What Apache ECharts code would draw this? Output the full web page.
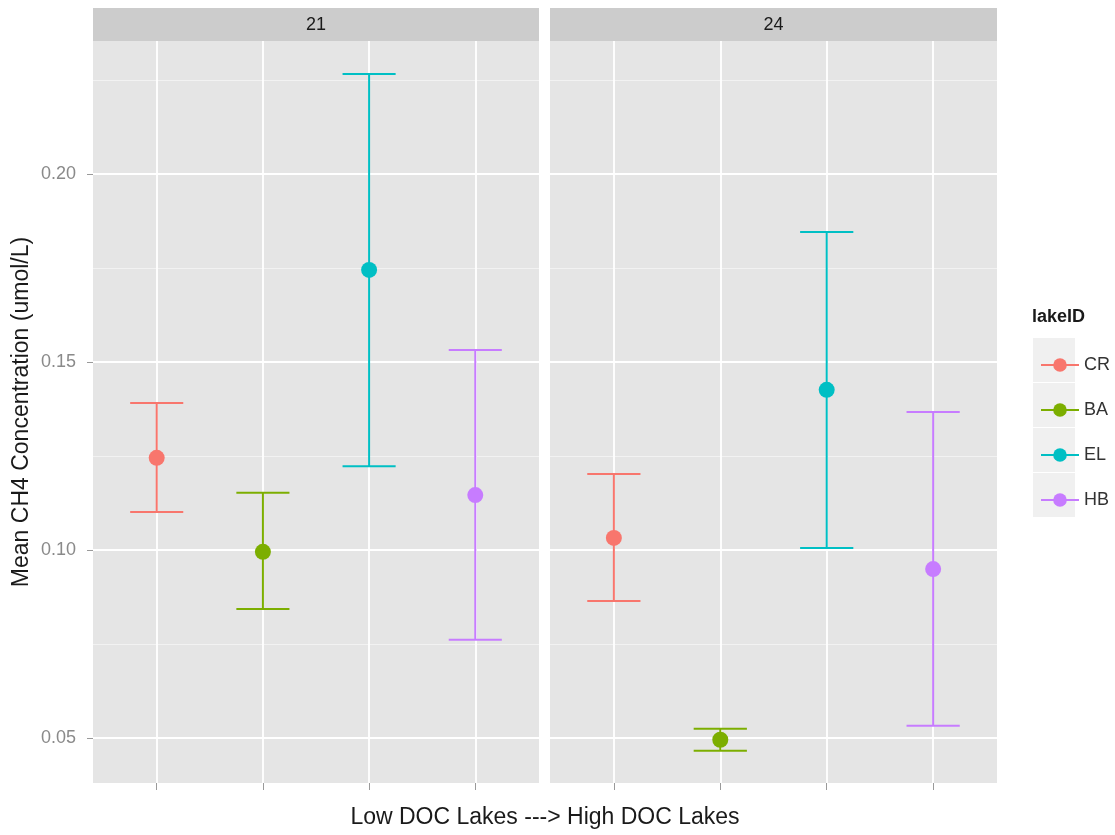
<!DOCTYPE html>
<html><head><meta charset="utf-8">
<script src="https://cdn.jsdelivr.net/npm/echarts@6/dist/echarts.min.js"></script>
<style>html,body{margin:0;padding:0;background:#fff}#c{width:1115px;height:835px}</style>
</head><body><div id="c"></div>
<script>
const lakes = ['CR', 'BA', 'EL', 'HB'];
const panels = ['21', '24'];
const colors = ['#F8766D', '#7CAE00', '#00BFC4', '#C77CFF'];
const mean21 = [0.1245, 0.0995, 0.1745, 0.1146];
const lower21 = [0.1101, 0.0843, 0.1223, 0.0761];
const upper21 = [0.1391, 0.1152, 0.2266, 0.1532];
const mean24 = [0.1032, 0.0495, 0.1426, 0.0949];
const lower24 = [0.0864, 0.0466, 0.1005, 0.0532];
const upper24 = [0.1202, 0.0524, 0.1846, 0.1367];
const yTicks = [0.05, 0.10, 0.15, 0.20];
const yMinor = [0.075, 0.125, 0.175, 0.225];
const xPositions = [1, 2, 3, 4];
const xTitle = 'Low DOC Lakes ---> High DOC Lakes';
const yTitle = 'Mean CH4 Concentration (umol/L)';
const legendTitle = 'lakeID';

const means = [mean21, mean24];
const lowers = [lower21, lower24];
const uppers = [upper21, upper24];

const FONT = 'Liberation Sans, Arial, Helvetica, sans-serif';
const Y_MIN = 0.038, Y_MAX = 0.2354;
const grids = [
  {left: 93, top: 41, width: 446, height: 742},
  {left: 550, top: 41, width: 447, height: 742}
];

const chart = echarts.init(document.getElementById('c'), null, {renderer: 'canvas'});

const gridOpts = grids.map(g => Object.assign({show: true, backgroundColor: '#e5e5e5', borderWidth: 0, containLabel: false}, g));

const xAxes = grids.map((g, p) => ({
  type: 'value', gridIndex: p, min: 0.4, max: 4.6,
  axisLine: {show: false},
  axisTick: {show: true, customValues: xPositions, length: 7, lineStyle: {color: '#9a9a9a', width: 1}},
  axisLabel: {show: false},
  splitLine: {show: true, lineStyle: {color: '#ffffff', width: 1.8}}
}));

const yAxes = [];
grids.forEach((g, p) => {
  yAxes.push({
    type: 'value', gridIndex: p, min: Y_MIN, max: Y_MAX,
    axisLine: {show: false},
    axisTick: {show: p === 0, customValues: yTicks, length: 6, lineStyle: {color: '#9a9a9a', width: 1}},
    axisLabel: {show: p === 0, customValues: yTicks, margin: 17, color: '#8a8a8a', fontSize: 18, fontFamily: FONT,
      formatter: v => v.toFixed(2)},
    splitLine: {show: true, lineStyle: {color: '#ffffff', width: 1.8}}
  });
});
grids.forEach((g, p) => {
  yAxes.push({
    type: 'value', gridIndex: p, min: Y_MIN, max: Y_MAX, position: 'right',
    axisLine: {show: false},
    axisTick: {show: false, customValues: yMinor},
    axisLabel: {show: false},
    splitLine: {show: true, lineStyle: {color: '#f2f2f2', width: 1}}
  });
});

const series = [];
lakes.forEach((lake, i) => {
  panels.forEach((pn, p) => {
    series.push({
      type: 'line', name: lake, xAxisIndex: p, yAxisIndex: p,
      data: [[xPositions[i], means[p][i]]],
      symbol: 'circle', symbolSize: 16, showSymbol: true,
      itemStyle: {color: colors[i]},
      lineStyle: {color: colors[i], width: 1.5},
      z: 5, silent: true, animation: false
    });
  });
});
lakes.forEach((lake, i) => {
  panels.forEach((pn, p) => {
    series.push({
      type: 'custom', name: lake, xAxisIndex: p, yAxisIndex: p,
      data: [[xPositions[i], lowers[p][i], uppers[p][i]]],
      encode: {x: 0, y: [1, 2]},
      z: 3, silent: true, animation: false,
      renderItem: (params, api) => {
        const x = api.value(0), lo = api.value(1), hi = api.value(2);
        const a = api.coord([x, lo]), b = api.coord([x, hi]);
        const l1 = api.coord([x - 0.25, lo]), r1 = api.coord([x + 0.25, lo]);
        const l2 = api.coord([x - 0.25, hi]), r2 = api.coord([x + 0.25, hi]);
        const st = {stroke: colors[i], lineWidth: 2};
        return {type: 'group', children: [
          {type: 'line', shape: {x1: a[0], y1: a[1], x2: b[0], y2: b[1]}, style: st},
          {type: 'line', shape: {x1: l1[0], y1: l1[1], x2: r1[0], y2: r1[1]}, style: st},
          {type: 'line', shape: {x1: l2[0], y1: l2[1], x2: r2[0], y2: r2[1]}, style: st}
        ]};
      }
    });
  });
});

const graphics = [];
grids.forEach((g, p) => {
  graphics.push({type: 'rect', shape: {x: g.left, y: 8, width: g.width, height: 33}, style: {fill: '#cccccc'}, z: 0});
  graphics.push({type: 'text', x: g.left + g.width / 2, y: 25,
    style: {text: panels[p], font: '18px ' + FONT, fill: '#1a1a1a', textAlign: 'center', textVerticalAlign: 'middle'}, z: 1});
});
lakes.forEach((lake, i) => {
  graphics.push({type: 'rect', shape: {x: 1033, y: 338 + 45 * i, width: 42, height: 44}, style: {fill: '#f0f0f0'}, z: 0});
});
graphics.push({type: 'text', x: 1032, y: 317,
  style: {text: legendTitle, font: 'bold 18px ' + FONT, fill: '#1a1a1a', textAlign: 'left', textVerticalAlign: 'middle'}});
graphics.push({type: 'text', x: 545, y: 818,
  style: {text: xTitle, font: '23px ' + FONT, fill: '#1a1a1a', textAlign: 'center', textVerticalAlign: 'middle'}});
graphics.push({type: 'text', x: 22, y: 412, rotation: Math.PI / 2,
  style: {text: yTitle, font: '23px ' + FONT, fill: '#1a1a1a', textAlign: 'center', textVerticalAlign: 'middle'}});

chart.setOption({
  animation: false,
  backgroundColor: '#ffffff',
  grid: gridOpts,
  xAxis: xAxes,
  yAxis: yAxes,
  legend: {
    data: lakes, orient: 'vertical', left: 1035, top: 351,
    itemWidth: 38, itemHeight: 17, itemGap: 27, selectedMode: false,
    textStyle: {fontSize: 18, color: '#333333', fontFamily: FONT, lineHeight: 18}
  },
  graphic: graphics,
  series: series
});
</script>
</body></html>
